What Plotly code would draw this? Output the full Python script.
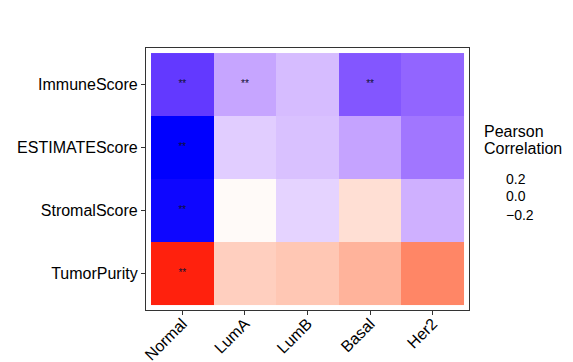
import plotly.graph_objects as go
import numpy as np

subtypes = ["Normal", "LumA", "LumB", "Basal", "Her2"]
scores = ["TumorPurity", "StromalScore", "ESTIMATEScore", "ImmuneScore"]  # bottom to top

# Pearson correlation per (score row, subtype column)
corr_tumorpurity = [0.290, 0.075, 0.088, 0.118, 0.185]
corr_stromal = [-0.297, 0.008, -0.056, 0.050, -0.101]
corr_estimate = [-0.300, -0.064, -0.080, -0.119, -0.178]
corr_immune = [-0.254, -0.116, -0.086, -0.219, -0.200]
signif_tumorpurity = ["**", "", "", "", ""]
signif_stromal = ["**", "", "", "", ""]
signif_estimate = ["**", "", "", "", ""]
signif_immune = ["**", "**", "", "**", ""]
legend_title = ["Pearson", "Correlation"]
legend_breaks = [0.2, 0.0, -0.2]
zlim = 0.30

z = [corr_tumorpurity, corr_stromal, corr_estimate, corr_immune]
sig = [signif_tumorpurity, signif_stromal, signif_estimate, signif_immune]


# --- Lab interpolation (like ggplot2 scale_fill_gradient2) ---
def srgb_to_lin(c):
    c = c / 255.0
    return np.where(c <= 0.04045, c / 12.92, ((c + 0.055) / 1.055) ** 2.4)


def lin_to_srgb(c):
    c = np.clip(c, 0, 1)
    v = np.where(c <= 0.0031308, 12.92 * c, 1.055 * c ** (1 / 2.4) - 0.055)
    return np.clip(np.round(v * 255), 0, 255)


M = np.array([[0.4124564, 0.3575761, 0.1804375],
              [0.2126729, 0.7151522, 0.0721750],
              [0.0193339, 0.1191920, 0.9503041]])
Minv = np.linalg.inv(M)
WP = np.array([0.95047, 1.0, 1.08883])


def f(t):
    d = 6 / 29
    return np.where(t > d ** 3, np.cbrt(t), t / (3 * d * d) + 4 / 29)


def finv(t):
    d = 6 / 29
    return np.where(t > d, t ** 3, 3 * d * d * (t - 4 / 29))


def rgb_to_lab(rgb):
    xyz = M @ srgb_to_lin(np.array(rgb, float)) / WP
    fx, fy, fz = f(xyz)
    return np.array([116 * fy - 16, 500 * (fx - fy), 200 * (fy - fz)])


def lab_to_rgb(lab):
    L, a, b = lab
    fy = (L + 16) / 116
    fx = fy + a / 500
    fz = fy - b / 200
    xyz = np.array([finv(fx), finv(fy), finv(fz)]) * WP
    return lin_to_srgb(Minv @ xyz)


low, mid, high = rgb_to_lab([0, 0, 255]), rgb_to_lab([255, 255, 255]), rgb_to_lab([255, 0, 0])
colorscale = []
n = 60
for i in range(n + 1):
    t = i / n
    if t <= 0.5:
        lab = low + (mid - low) * (t / 0.5)
    else:
        lab = mid + (high - mid) * ((t - 0.5) / 0.5)
    r, g, b = lab_to_rgb(lab)
    colorscale.append([t, f"rgb({int(r)},{int(g)},{int(b)})"])

fig = go.Figure()
fig.add_trace(go.Heatmap(
    z=z, x=subtypes, y=scores,
    colorscale=colorscale, zmin=-zlim, zmax=zlim,
    showscale=False, xgap=0, ygap=0, hoverinfo="skip",
))

txt_x, txt_y, txt_s = [], [], []
for i, row in enumerate(sig):
    for j, s in enumerate(row):
        if s:
            txt_x.append(subtypes[j]); txt_y.append(scores[i]); txt_s.append(s)
fig.add_trace(go.Scatter(
    x=txt_x, y=txt_y, text=txt_s, mode="text",
    textfont=dict(size=10, color="#111133", family="Liberation Sans, Arial"),
    hoverinfo="skip", showlegend=False,
))

font = "Liberation Sans, Arial, Helvetica, sans-serif"
e = 0.08
# page renders with a small offset; compensate in margins
ml, mt = 138, 40
pw, ph = 323, 262
fig.update_layout(
    width=573, height=362,
    margin=dict(l=ml, r=573 - ml - pw, t=mt, b=362 - mt - ph, autoexpand=False),
    plot_bgcolor="white", paper_bgcolor="white",
    font=dict(family=font, color="black"),
    xaxis=dict(range=[-0.5 - e, 4.5 + e], tickangle=-45, ticks="outside", ticklen=4,
               tickcolor="#333333", tickfont=dict(size=16, color="black"), automargin=False,
               ticklabelstandoff=-7,
               showline=True, linecolor="#333333", linewidth=1.2, mirror=True,
               showgrid=False, zeroline=False, fixedrange=True),
    yaxis=dict(range=[-0.5 - e, 3.5 + e], ticks="outside", ticklen=4,
               tickcolor="#333333", tickfont=dict(size=16, color="black"), automargin=False,
               showline=True, linecolor="#333333", linewidth=1.2, mirror=True,
               showgrid=False, zeroline=False, fixedrange=True),
    showlegend=False,
)

# legend title lines (centre y in panel-relative pixels)
for t, yy in zip(legend_title, [127.5, 144.5]):
    fig.add_annotation(text=t, xref="paper", yref="paper",
                       x=(478 - 142) / pw, y=(306 - yy) / ph, xanchor="left", yanchor="middle",
                       showarrow=False, align="left", font=dict(size=16, family=font, color="black"))
label_y = [174.5, 192.5, 211]
for b, yy in zip(legend_breaks, label_y):
    lab = f"{b:.1f}".replace("-", "\u2212")
    fig.add_annotation(text=lab, xref="paper", yref="paper",
                       x=(500 - 142) / pw, y=(306 - yy) / ph, xanchor="left", yanchor="middle",
                       showarrow=False, align="left", font=dict(size=14, family=font, color="black"))

fig.write_html("out.html")
